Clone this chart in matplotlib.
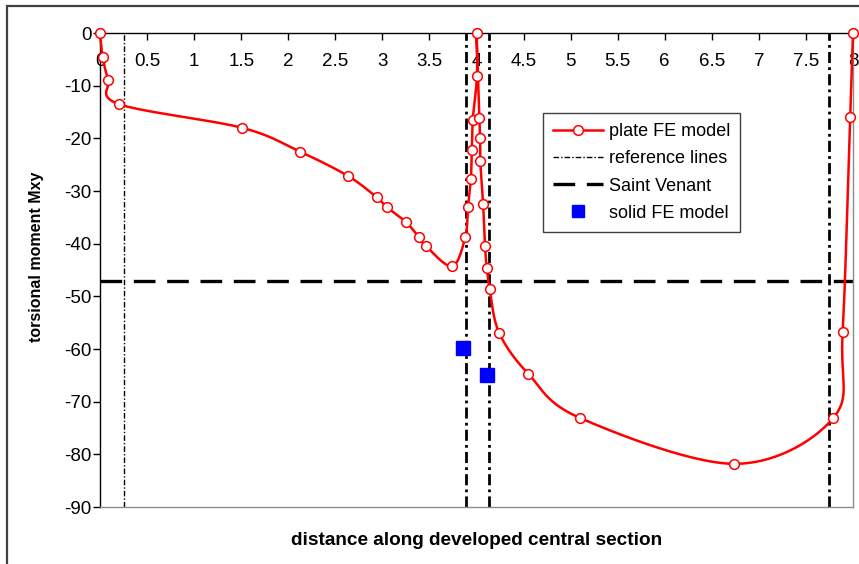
import numpy as np
import matplotlib
matplotlib.use("Agg")
import matplotlib.pyplot as plt
from matplotlib.patches import Rectangle

plt.rcParams['font.family'] = ['Liberation Sans', 'DejaVu Sans']
plt.rcParams['axes.unicode_minus'] = False

# ---- data ----
plate_x = [0.0, 0.028, 0.088, 0.20, 1.51, 2.12, 2.63, 2.94, 3.05, 3.25, 3.39, 3.46,
           3.74, 3.88, 3.91, 3.94, 3.95, 3.96, 4.005, 4.0, 4.03, 4.04, 4.04, 4.07,
           4.09, 4.11, 4.14, 4.24, 4.55, 5.10, 6.74, 7.79, 7.89, 7.97, 8.0]
plate_y = [0.0, -4.5, -8.9, -13.5, -18.0, -22.5, -27.1, -31.2, -33.1, -35.9, -38.8, -40.4,
           -44.3, -38.8, -33.1, -27.7, -22.2, -16.5, -8.2, 0.0, -16.1, -19.9, -24.3, -32.4,
           -40.4, -44.7, -48.6, -56.9, -64.7, -73.1, -81.8, -73.1, -56.8, -15.9, 0.0]
reference_x = [0.26, 3.89, 4.13, 7.75]
saint_venant = -47.0
solid_x = [3.86, 4.11]
solid_y = [-59.8, -64.9]
xticks = [0, 0.5, 1, 1.5, 2, 2.5, 3, 3.5, 4, 4.5, 5, 5.5, 6, 6.5, 7, 7.5, 8]
xticklabels = ['0', '0.5', '1', '1.5', '2', '2.5', '3', '3.5', '4', '4.5', '5', '5.5',
               '6', '6.5', '7', '7.5', '8']
yticks = [0, -10, -20, -30, -40, -50, -60, -70, -80, -90]


def smooth(xs, ys, n=30):
    """Excel-like smoothed line (Catmull-Rom / cubic Bezier through points)."""
    P = np.column_stack([xs, ys]).astype(float)
    m = len(P)
    out = [P[0]]
    t = np.linspace(0, 1, n)[1:, None]
    for i in range(m - 1):
        p0 = P[i - 1] if i > 0 else P[i]
        p1 = P[i]
        p2 = P[i + 1]
        p3 = P[i + 2] if i + 2 < m else P[i + 1]
        c1 = p1 + (p2 - p0) / 6.0
        c2 = p2 - (p3 - p1) / 6.0
        seg = ((1 - t) ** 3) * p1 + 3 * ((1 - t) ** 2) * t * c1 + 3 * (1 - t) * t ** 2 * c2 + t ** 3 * p2
        out.extend(seg)
    out = np.array(out)
    return out[:, 0], out[:, 1]


W, H = 859, 564
fig = plt.figure(figsize=(W / 100, H / 100), dpi=100)
ax = fig.add_axes([100 / W, 1 - 507 / H, (853 - 100) / W, (507 - 33) / H])

# figure border
fig.patches.append(Rectangle((7 / W, -0.1), 1.2, 1.1 - 6 / H, transform=fig.transFigure,
                             fill=False, edgecolor='#404040', linewidth=1.6, zorder=0))

dashdot = (0, (4, 1.5, 1, 1.5))

# reference lines
for i, rx in enumerate(reference_x):
    lw = 1.0 if i == 0 else 2.0
    ax.axvline(rx, color='black', linewidth=lw, linestyle=dashdot, zorder=2)

# Saint Venant
ax.axhline(saint_venant, color='black', linewidth=2.4, linestyle=(0, (6.5, 3.5)), zorder=2)

# plate FE model
sx, sy = smooth(plate_x, plate_y)
ax.plot(sx, sy, color='red', linewidth=1.8, zorder=3, clip_on=False)
ax.plot(plate_x, plate_y, linestyle='none', marker='o', markersize=7,
        markerfacecolor='white', markeredgecolor='red', markeredgewidth=1.1, zorder=4, clip_on=False)

# solid FE model
ax.plot(solid_x, solid_y, linestyle='none', marker='s', markersize=10, color='#0000ff', zorder=5)

# legend proxies
h1, = ax.plot([], [], color='red', linewidth=1.8, marker='o', markersize=7,
              markerfacecolor='white', markeredgecolor='red', markeredgewidth=1.1)
h2, = ax.plot([], [], color='black', linewidth=1.0, linestyle=dashdot)
h3, = ax.plot([], [], color='black', linewidth=2.4, linestyle=(0, (6.5, 3.5)))
h4, = ax.plot([], [], linestyle='none', marker='s', markersize=8, color='#0000ff')
leg = ax.legend([h1, h2, h3, h4], ['plate FE model', 'reference lines', 'Saint Venant', 'solid FE model'],
                loc='upper left', bbox_to_anchor=((543 - 100) / 753, 1 - (113 - 33) / 474),
                borderaxespad=0, fontsize=13, frameon=True, fancybox=False, framealpha=1,
                edgecolor='#404040', handlelength=2.8, handletextpad=0.3, labelspacing=0.57,
                borderpad=0.55)
leg.get_frame().set_linewidth(1.0)

ax.set_xlim(0, 8)
ax.set_ylim(-90, 0)

# axes styling
ax.spines['bottom'].set_position(('data', 0))
ax.spines['bottom'].set_color('black')
ax.spines['left'].set_color('black')
ax.spines['top'].set_position(('data', -90))
ax.spines['top'].set_color('#8c8c8c')
ax.spines['right'].set_color('#8c8c8c')
for s in ax.spines.values():
    s.set_linewidth(1.0)
ax.spines['bottom'].set_zorder(1)

ax.set_xticks(xticks)
ax.set_xticklabels(xticklabels)
ax.set_yticks(yticks)
ax.xaxis.set_ticks_position('bottom')
ax.yaxis.set_ticks_position('left')
ax.tick_params(axis='x', direction='out', length=5, width=1, labelsize=13.5, pad=9.5)
ax.tick_params(axis='y', direction='out', length=5, width=1, labelsize=13.5, pad=1)

ax.set_xlabel('distance along developed central section', fontsize=13.7, fontweight='bold')
ax.xaxis.set_label_coords(0.5, -(532 - 507) / 474)
ax.set_ylabel('torsional moment Mxy', fontsize=11.5, fontweight='bold')
ax.yaxis.set_label_coords(-(100 - 44) / 753, (507 - 257) / 474)

fig.savefig('out.png', dpi=100)
